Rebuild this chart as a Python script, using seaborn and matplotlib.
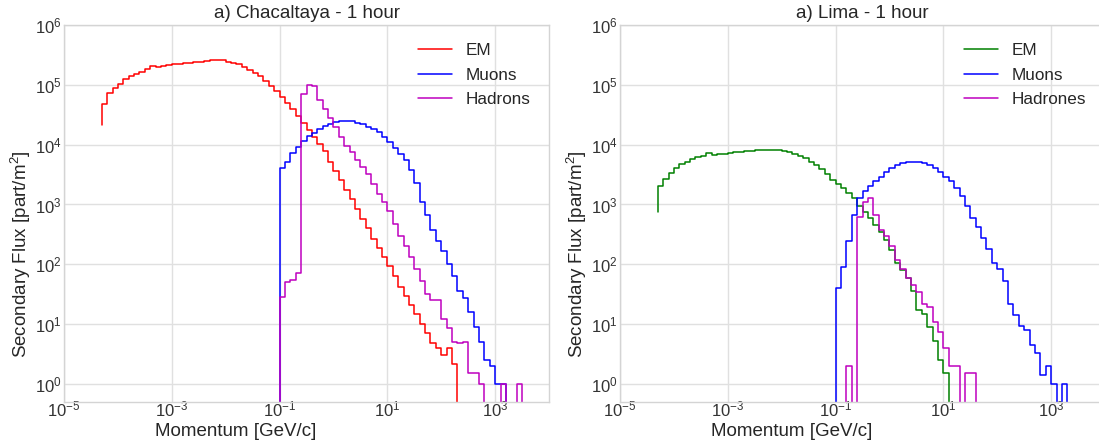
import numpy as np
import pandas as pd
import matplotlib
matplotlib.use("Agg")
import matplotlib.pyplot as plt
import seaborn as sns

# ---------------- data ----------------
# Histograms with 10 log-bins per decade.  Each list starts with the value at
# the lower edge of its first bin, followed by one value per bin.
BINS_PER_DECADE = 10
em_start_exp = -4.3      # first bin edge = 10**-4.3 GeV/c
mu_start_exp = -1.0      # first bin edge = 10**-1 GeV/c
had_start_exp = -1.0

# --- Chacaltaya ---
chac_em = [2.1e4, 4.8e4, 7.2e4, 8.9e4, 1.05e5, 1.23e5, 1.38e5, 1.51e5, 1.66e5,
           1.82e5, 2.09e5, 2.0e5, 2.04e5, 2.14e5, 2.19e5, 2.24e5, 2.29e5, 2.34e5,
           2.4e5, 2.45e5, 2.51e5, 2.57e5, 2.57e5, 2.57e5, 2.45e5, 2.34e5, 2.19e5,
           2.0e5, 1.78e5, 1.58e5, 1.38e5, 1.15e5, 9.5e4, 7.8e4, 6.3e4, 5.0e4, 3.9e4,
           3.0e4, 2.3e4, 1.78e4, 1.35e4, 1.02e4, 7.8e3, 5.2e3, 3.6e3, 2.6e3, 1.78e3,
           1.23e3, 830, 575, 410, 263, 190, 132, 93, 63, 42, 30, 21, 15, 10, 7, 4.8,
           4, 3, 4, 2.2, 0, 0]
chac_mu = [0, 4.0e3, 5.2e3, 7.2e3, 9.3e3, 1.17e4, 1.38e4, 1.58e4, 1.82e4, 2.04e4,
           2.24e4, 2.4e4, 2.5e4, 2.5e4, 2.45e4, 2.34e4, 2.19e4, 2.0e4, 1.82e4,
           1.62e4, 1.35e4, 1.1e4, 8.9e3, 7.1e3, 5.5e3, 3.8e3, 2.3e3, 1.12e3, 660,
           380, 250, 166, 100, 63, 36, 27, 16, 9, 5, 2.5, 2, 1, 1, 0, 0]
chac_had = [0, 28, 50, 55, 72, 7.1e4, 9.8e4, 9.5e4, 5.6e4, 4.0e4, 2.75e4, 1.95e4,
            1.32e4, 9.5e3, 7.4e3, 5.6e3, 4.3e3, 3.2e3, 2.2e3, 1.5e3, 1.12e3, 790,
            480, 295, 200, 132, 83, 52, 32, 25, 25, 12, 8.5, 5, 4.8, 5, 1.5, 1.5,
            1, 0, 0, 0, 1, 0, 0, 1, 0]

# --- Lima ---
lima_em = [760, 2.0e3, 2.7e3, 3.3e3, 4.0e3, 4.7e3, 5.2e3, 5.8e3, 6.2e3, 6.5e3,
           7.2e3, 6.8e3, 6.9e3, 7.1e3, 7.2e3, 7.4e3, 7.6e3, 7.8e3, 7.9e3, 8.0e3,
           8.1e3, 8.2e3, 8.2e3, 8.1e3, 7.9e3, 7.4e3, 6.9e3, 6.5e3, 5.9e3, 5.2e3,
           4.6e3, 3.9e3, 3.2e3, 2.6e3, 2.2e3, 1.86e3, 1.55e3, 1.26e3, 955, 760,
           590, 450, 350, 257, 174, 105, 81, 59, 36, 17, 15, 9, 5.2, 2.5, 1.5, 0, 0]
lima_mu = [0, 40, 89, 250, 660, 1.26e3, 1.66e3, 2.04e3, 2.45e3, 2.9e3, 3.5e3,
           4.0e3, 4.5e3, 4.9e3, 5.1e3, 5.2e3, 5.1e3, 4.9e3, 4.6e3, 4.0e3, 3.5e3,
           2.9e3, 2.5e3, 1.9e3, 1.4e3, 950, 600, 420, 280, 178, 105, 85, 52, 22,
           14, 9.3, 8, 4.5, 3.3, 1.4, 2, 1, 0, 1, 0]
lima_had = [0, 0, 0, 2, 0, 630, 1.12e3, 1.26e3, 680, 380, 295, 200, 120, 83, 58,
            45, 35, 22, 19, 11, 7.4, 4, 2, 2, 0, 1.5, 1.5, 0]

panels = [
    ("a) Chacaltaya - 1 hour",
     [("EM", chac_em, em_start_exp, "#ff0000"),
      ("Muons", chac_mu, mu_start_exp, "#0000ff"),
      ("Hadrons", chac_had, had_start_exp, "#bf00bf")]),
    ("a) Lima - 1 hour",
     [("EM", lima_em, em_start_exp, "#008000"),
      ("Muons", lima_mu, mu_start_exp, "#0000ff"),
      ("Hadrones", lima_had, had_start_exp, "#bf00bf")]),
]

x_ticks = [1e-5, 1e-3, 1e-1, 1e1, 1e3]
y_ticks = [1e0, 1e1, 1e2, 1e3, 1e4, 1e5, 1e6]
x_lim = (1e-5, 1e4)
y_lim = (0.5, 1e6)

# ---------------- style ----------------
sns.set_theme(style="whitegrid", rc={
    "axes.edgecolor": "#d4d4d4",
    "axes.linewidth": 1.0,
    "grid.color": "#e0e0e0",
    "grid.linewidth": 1.0,
    "xtick.bottom": False, "ytick.left": False,
    "xtick.major.size": 0, "ytick.major.size": 0,
    "text.color": "#262626",
    "axes.labelcolor": "#262626",
    "xtick.color": "#333333", "ytick.color": "#333333",
})
plt.rcParams["font.family"] = ["Liberation Sans", "DejaVu Sans"]
plt.rcParams["mathtext.fontset"] = "custom"
plt.rcParams["mathtext.rm"] = "Liberation Sans"
plt.rcParams["mathtext.it"] = "Liberation Sans:italic"
plt.rcParams["mathtext.bf"] = "Liberation Sans:bold"

W, H = 1099, 448
fig = plt.figure(figsize=(W / 100, H / 100), dpi=100)
ax_w = 485 / W
ax_h = 377 / H
bottom = (H - 402) / H
axes = [fig.add_axes([64 / W, bottom, ax_w, ax_h]),
        fig.add_axes([620 / W, bottom, ax_w, ax_h])]

for ax, (title, series) in zip(axes, panels):
    ax.set_xscale("log")
    ax.set_yscale("log")
    for label, vals, start_exp, color in series:
        vals = np.asarray(vals, dtype=float)
        n = len(vals)
        edges = 10 ** (start_exp + np.arange(n) / BINS_PER_DECADE)
        df = pd.DataFrame({"momentum": edges,
                           "flux": np.where(vals > 0, vals, 1e-3)})
        sns.lineplot(data=df, x="momentum", y="flux", ax=ax, color=color,
                     label=label, drawstyle="steps-pre", linewidth=1.1,
                     estimator=None, errorbar=None, sort=False)
    ax.set_xticks(x_ticks)
    ax.set_yticks(y_ticks)
    ax.set_xlim(*x_lim)
    ax.set_ylim(*y_lim)
    ax.xaxis.set_minor_locator(matplotlib.ticker.NullLocator())
    ax.yaxis.set_minor_locator(matplotlib.ticker.NullLocator())
    ax.tick_params(axis="both", labelsize=12, length=0)
    ax.tick_params(axis="x", pad=-1.5)
    ax.tick_params(axis="y", pad=1.5)
    ax.set_title(title, fontsize=13.5, pad=5)
    ax.set_xlabel("Momentum [GeV/c]", fontsize=13.5)
    ax.set_ylabel("Secondary Flux [part/m$^2$]", fontsize=13.5)
    ax.xaxis.set_label_coords(0.355, -0.055)
    ax.xaxis.label.set_va("top")
    ax.yaxis.set_label_coords(-0.064, 0.393)
    ax.legend(loc="upper right", frameon=False, fontsize=12.3,
              borderaxespad=0.68, labelspacing=0.55)
    for sp in ax.spines.values():
        sp.set_visible(True)
        sp.set_color("#d4d4d4")

fig.savefig("out.png", dpi=100)
